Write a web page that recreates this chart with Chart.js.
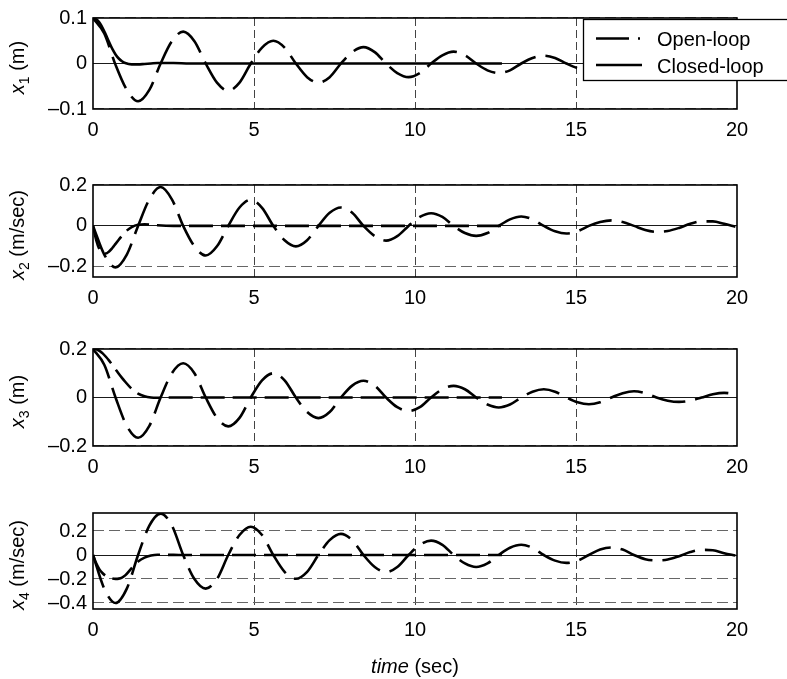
<!DOCTYPE html>
<html>
<head>
<meta charset="utf-8">
<script src="https://cdn.jsdelivr.net/npm/chart.js@4.4.0/dist/chart.umd.min.js"></script>
<style>
  html, body { margin: 0; padding: 0; background: #fff; }
  #wrap { position: relative; width: 787px; height: 679px; overflow: hidden; background: #fff; }
  canvas { position: absolute; left: 0; }
</style>
</head>
<body>
<div id="wrap">
  <canvas id="c1" width="787" height="152" style="top:0px"></canvas>
  <canvas id="c2" width="787" height="155" style="top:160px"></canvas>
  <canvas id="c3" width="787" height="158" style="top:322px"></canvas>
  <canvas id="c4" width="787" height="209" style="top:470px"></canvas>
</div>
<script>
// time grid of the open-loop runs (sec)
const timeOpen = [0, 0.35, 0.7, 1.05, 1.4, 1.75, 2.1, 2.45, 2.8, 3.15, 3.5, 3.85,
  4.2, 4.55, 4.9, 5.25, 5.6, 5.95, 6.3, 6.65, 7.0, 7.35, 7.7, 8.05, 8.4, 8.75,
  9.1, 9.45, 9.8, 10.15, 10.5, 10.85, 11.2, 11.55, 11.9, 12.25, 12.6, 12.95,
  13.3, 13.65, 14.0, 14.35, 14.7, 15.05, 15.4, 15.75, 16.1, 16.45, 16.8, 17.15,
  17.5, 17.85, 18.2, 18.55, 18.9, 19.25, 19.6, 19.95];

// time grid of the closed-loop runs (sec)
const timeClosed = [0, 0.1, 0.2, 0.3, 0.4, 0.5, 0.6, 0.7, 0.8, 0.9, 1.0, 1.2, 1.4,
  1.6, 1.8, 2.0, 2.5, 3.0, 4.0, 5.0, 6.0, 7.0, 8.0, 9.0, 10.0, 11.0, 12.0, 12.7];

const x1Open = [0.100, 0.066, -0.003, -0.058, -0.083, -0.058, 0.000, 0.049,
  0.070, 0.049, 0.000, -0.042, -0.060, -0.042, 0.000, 0.035, 0.050, 0.035, 0.000, -0.030,
  -0.042, -0.030, 0.000, 0.025, 0.036, 0.025, 0.000, -0.021, -0.030, -0.021, 0.000, 0.018,
  0.026, 0.018, 0.000, -0.015, -0.021, -0.015, 0.000, 0.012, 0.017, 0.012, 0.000, -0.010,
  -0.014, -0.010, 0.000, 0.008, 0.011, 0.008, 0.000, -0.006, -0.009, -0.006, 0.000, 0.005,
  0.007, 0.005];
const x2Open = [0.000, -0.140, -0.203, -0.140, 0.000, 0.130, 0.190, 0.130,
  0.000, -0.100, -0.145, -0.100, 0.000, 0.090, 0.128, 0.088, 0.000, -0.070, -0.100, -0.070,
  0.000, 0.064, 0.090, 0.064, 0.000, -0.050, -0.072, -0.050, 0.000, 0.044, 0.062, 0.044,
  0.000, -0.035, -0.049, -0.035, 0.000, 0.032, 0.046, 0.032, 0.000, -0.026, -0.037, -0.026,
  0.000, 0.019, 0.027, 0.019, 0.000, -0.020, -0.029, -0.025, -0.010, 0.010, 0.022, 0.022,
  0.010, -0.004];
const x3Open = [0.200, 0.135, 0.000, -0.117, -0.166, -0.117, 0.000, 0.100,
  0.141, 0.100, 0.000, -0.084, -0.119, -0.084, 0.000, 0.071, 0.100, 0.071, 0.000, -0.060,
  -0.085, -0.060, 0.000, 0.049, 0.069, 0.049, 0.000, -0.040, -0.056, -0.040, 0.000, 0.034,
  0.048, 0.034, 0.000, -0.029, -0.041, -0.029, 0.000, 0.024, 0.034, 0.024, 0.000, -0.020,
  -0.028, -0.020, 0.000, 0.018, 0.026, 0.018, 0.000, -0.013, -0.018, -0.013, 0.000, 0.013,
  0.019, 0.014];
const x4Open = [0.000, -0.280, -0.400, -0.280, 0.000, 0.245, 0.345, 0.245,
  0.000, -0.200, -0.280, -0.200, 0.000, 0.167, 0.236, 0.167, 0.000, -0.140, -0.198, -0.140,
  0.000, 0.124, 0.176, 0.124, 0.000, -0.100, -0.143, -0.100, 0.000, 0.085, 0.120, 0.085,
  0.000, -0.070, -0.100, -0.070, 0.000, 0.060, 0.085, 0.060, 0.000, -0.047, -0.066, -0.047,
  0.000, 0.045, 0.063, 0.045, 0.000, -0.035, -0.045, -0.038, -0.010, 0.025, 0.043, 0.040,
  0.015, -0.005];

const x1Closed = [0.100, 0.097, 0.090, 0.078, 0.063, 0.047, 0.032, 0.020, 0.011, 0.005,
  0.001, -0.002, -0.002, -0.001, 0.000, 0.001, 0.001, 0.000, 0, 0, 0, 0, 0, 0, 0, 0, 0, 0];
const x2Closed = [0.000, -0.070, -0.115, -0.135, -0.135, -0.125, -0.108, -0.088, -0.068, -0.048,
  -0.030, -0.006, 0.006, 0.008, 0.006, 0.003, 0.000, 0.000, 0, 0, 0, 0, 0, 0, 0, 0, 0, 0];
const x3Closed = [0.200, 0.199, 0.192, 0.182, 0.168, 0.152, 0.134, 0.116, 0.098, 0.081,
  0.065, 0.036, 0.016, 0.005, 0.000, -0.001, 0.000, 0.000, 0, 0, 0, 0, 0, 0, 0, 0, 0, 0];
const x4Closed = [0.000, -0.070, -0.120, -0.152, -0.174, -0.188, -0.196, -0.199, -0.197, -0.188,
  -0.170, -0.110, -0.055, -0.022, -0.005, 0.002, 0.001, 0.000, 0, 0, 0, 0, 0, 0, 0, 0, 0, 0];

const seriesNames = ['Open-loop', 'Closed-loop'];
const xTicks = [0, 5, 10, 15, 20];
const yTicks1 = [-0.1, 0, 0.1];
const yTicks2 = [-0.2, 0, 0.2];
const yTicks3 = [-0.2, 0, 0.2];
const yTicks4 = [-0.4, -0.2, 0, 0.2];
const yUnits = ['(m)', '(m/sec)', '(m)', '(m/sec)'];
const xTitle = ['time', '(sec)'];

const FONT = '"Liberation Sans", Arial, Helvetica, sans-serif';
Chart.defaults.font.family = FONT;
Chart.defaults.font.size = 20;
Chart.defaults.color = '#000';

function fmt(v) {
  if (v === 0) return '0';
  return v < 0 ? '\u2013' + Math.abs(v) : String(v);
}

function pts(t, y) {
  return t.map((tt, i) => ({ x: tt, y: y[i] }));
}

const framePlugin = {
  id: 'frame',
  afterDatasetsDraw(chart) {
    const { ctx, chartArea: a } = chart;
    ctx.save();
    ctx.setLineDash([]);
    ctx.strokeStyle = '#000';
    ctx.lineWidth = 1.6;
    ctx.strokeRect(a.left, a.top, a.right - a.left, a.bottom - a.top);
    ctx.restore();
  },
  afterDraw(chart, args, opts) {
    const { ctx, chartArea: a } = chart;
    // y axis title: italic x, subscript index, unit
    ctx.save();
    ctx.translate(24, (a.top + a.bottom) / 2 + 4);
    ctx.rotate(-Math.PI / 2);
    ctx.fillStyle = '#000';
    ctx.textBaseline = 'alphabetic';
    const fi = 'italic 20px ' + FONT, fs = '14px ' + FONT, fn = '20px ' + FONT;
    ctx.font = fi; const w1 = ctx.measureText('x').width;
    ctx.font = fs; const w2 = ctx.measureText(opts.sub).width;
    ctx.font = fn; const w3 = ctx.measureText(' ' + opts.unit).width;
    let x = -(w1 + w2 + w3) / 2;
    ctx.font = fi; ctx.fillText('x', x, 0); x += w1;
    ctx.font = fs; ctx.fillText(opts.sub, x, 5); x += w2;
    ctx.font = fn; ctx.fillText(' ' + opts.unit, x, 0);
    ctx.restore();

    if (opts.legend) {
      const ds = chart.data.datasets;
      ctx.save();
      ctx.fillStyle = '#fff';
      ctx.fillRect(583, 19, 230, 61);
      ctx.strokeStyle = '#000';
      ctx.lineWidth = 1.3;
      ctx.strokeRect(583.5, 19.5, 230, 61);
      ctx.lineWidth = 2.6;
      ctx.setLineDash([33, 9, 2, 9]);
      ctx.beginPath(); ctx.moveTo(596, 38.5); ctx.lineTo(642, 38.5); ctx.stroke();
      ctx.setLineDash([]);
      ctx.beginPath(); ctx.moveTo(596, 65); ctx.lineTo(642, 65); ctx.stroke();
      ctx.fillStyle = '#000';
      ctx.font = '20px ' + FONT;
      ctx.textBaseline = 'alphabetic';
      ctx.fillText(ds[0].label, 657, 46);
      ctx.fillText(ds[1].label, 657, 72.5);
      ctx.restore();
    }

    if (opts.xTitle) {
      ctx.save();
      ctx.fillStyle = '#000';
      ctx.textBaseline = 'alphabetic';
      const fi2 = 'italic 20px ' + FONT, fn2 = '20px ' + FONT;
      ctx.font = fi2; const wa = ctx.measureText(xTitle[0]).width;
      ctx.font = fn2; const wb = ctx.measureText(' ' + xTitle[1]).width;
      const cx = (a.left + a.right) / 2;
      const xx = cx - (wa + wb) / 2;
      ctx.font = fi2; ctx.fillText(xTitle[0], xx, a.bottom + 64);
      ctx.font = fn2; ctx.fillText(' ' + xTitle[1], xx + wa, a.bottom + 64);
      ctx.restore();
    }
  }
};

function makeChart(id, cfg) {
  const canvas = document.getElementById(id);
  const H = canvas.height;
  return new Chart(canvas.getContext('2d'), {
    type: 'line',
    data: {
      datasets: [
        {
          label: seriesNames[0],
          data: pts(timeOpen, cfg.open),
          borderColor: '#000',
          borderWidth: 2.6,
          borderDash: [34, 10],
          pointRadius: 0,
          fill: false,
          cubicInterpolationMode: 'monotone'
        },
        {
          label: seriesNames[1],
          data: pts(timeClosed, cfg.closed),
          borderColor: '#000',
          borderWidth: 2.6,
          borderDash: cfg.closedDash,
          pointRadius: 0,
          fill: false,
          cubicInterpolationMode: 'monotone'
        }
      ]
    },
    options: {
      responsive: false,
      animation: false,
      events: [],
      layout: { padding: { top: cfg.padTop, right: 50, bottom: 0, left: 0 } },
      scales: {
        x: {
          type: 'linear',
          min: 0,
          max: 20,
          afterBuildTicks: s => { s.ticks = xTicks.map(v => ({ value: v })); },
          afterFit: s => { s.height = H - cfg.boxBottom; },
          ticks: { padding: 9, maxRotation: 0, callback: v => fmt(v) },
          grid: {
            drawTicks: false,
            lineWidth: 1,
            color: c => (c.tick && (c.tick.value === 0 || c.tick.value === 20)) ? 'rgba(0,0,0,0)' : '#444'
          },
          border: { display: false, dash: [8, 4] }
        },
        y: {
          type: 'linear',
          min: cfg.yMin,
          max: cfg.yMax,
          afterBuildTicks: s => { s.ticks = cfg.yTicks.map(v => ({ value: v })); },
          afterFit: s => { s.width = 93; },
          ticks: { padding: 6, callback: v => fmt(v) },
          grid: {
            drawTicks: false,
            color: c => (c.tick && c.tick.value === 0) ? '#000' : '#666',
            lineWidth: c => (c.tick && c.tick.value === 0) ? 0.9 : 1.1
          },
          border: { display: false, dash: c => (c.tick && c.tick.value === 0) ? [] : [11, 5] }
        }
      },
      plugins: {
        legend: { display: false },
        tooltip: { enabled: false },
        frame: { sub: cfg.sub, unit: cfg.unit, legend: !!cfg.legend, xTitle: !!cfg.xTitle }
      }
    },
    plugins: [framePlugin]
  });
}

makeChart('c1', { open: x1Open, closed: x1Closed, closedDash: [], yMin: -0.1, yMax: 0.1,
  yTicks: yTicks1, padTop: 13, boxBottom: 109, sub: '1', unit: yUnits[0], legend: true });
makeChart('c2', { open: x2Open, closed: x2Closed, closedDash: [24, 8], yMin: -0.25, yMax: 0.2,
  yTicks: yTicks2, padTop: 25, boxBottom: 117, sub: '2', unit: yUnits[1] });
makeChart('c3', { open: x3Open, closed: x3Closed, closedDash: [24, 8], yMin: -0.2, yMax: 0.2,
  yTicks: yTicks3, padTop: 27, boxBottom: 124, sub: '3', unit: yUnits[2] });
makeChart('c4', { open: x4Open, closed: x4Closed, closedDash: [24, 8], yMin: -0.45, yMax: 0.35,
  yTicks: yTicks4, padTop: 43, boxBottom: 139, sub: '4', unit: yUnits[3], xTitle: true });
</script>
</body>
</html>
